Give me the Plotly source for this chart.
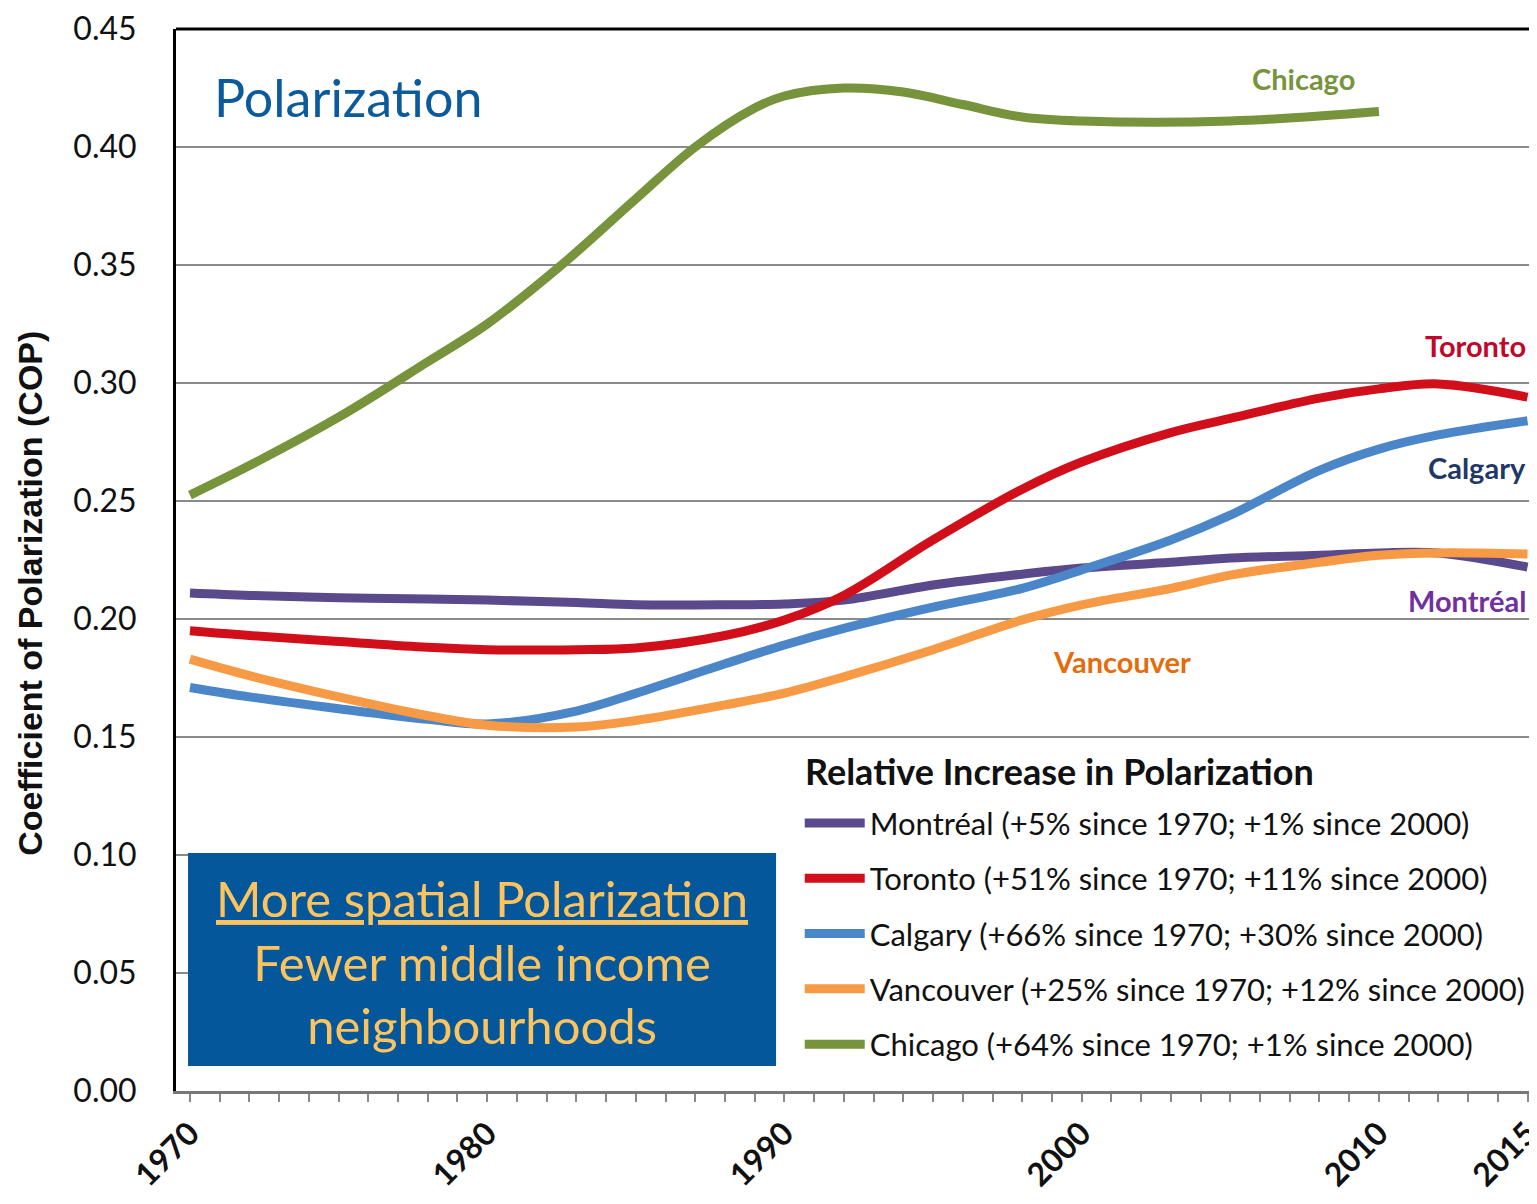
import plotly.graph_objects as go

# data
years = [1970, 1972, 1975, 1978, 1980, 1983, 1985, 1988, 1990, 1992, 1995, 1998,
         2000, 2003, 2005, 2008, 2010, 2012, 2015]

montreal = [0.211, 0.210, 0.209, 0.2085, 0.208, 0.207, 0.206, 0.206, 0.2064, 0.208, 0.2144, 0.219,
            0.2216, 0.224, 0.2258, 0.227, 0.228, 0.228, 0.222]
toronto = [0.195, 0.193, 0.1905, 0.188, 0.187, 0.187, 0.1877, 0.193, 0.1996, 0.210, 0.2335, 0.255,
           0.2665, 0.279, 0.285, 0.2936, 0.2975, 0.2996, 0.294]
calgary = [0.171, 0.167, 0.162, 0.1575, 0.1555, 0.161, 0.1685, 0.181, 0.189, 0.196, 0.205, 0.213,
           0.2208, 0.2335, 0.244, 0.263, 0.272, 0.278, 0.284]
vancouver = [0.183, 0.176, 0.167, 0.159, 0.155, 0.1542, 0.157, 0.1636, 0.1686, 0.1755, 0.187, 0.1996,
             0.206, 0.213, 0.2186, 0.224, 0.227, 0.228, 0.2275]

chicago_years = [1970, 1972, 1975, 1978, 1980, 1982.5, 1985, 1987, 1989, 1990, 1992, 1994, 1996,
                 1998, 2000, 2005, 2010]
chicago = [0.2525, 0.265, 0.2855, 0.309, 0.325, 0.350, 0.378, 0.400, 0.4165, 0.4216, 0.425, 0.4233,
           0.418, 0.4127, 0.411, 0.411, 0.415]

legend_names = [
    "Montréal (+5% since 1970; +1% since 2000)",
    "Toronto (+51% since 1970; +11% since 2000)",
    "Calgary (+66% since 1970; +30% since 2000)",
    "Vancouver (+25% since 1970; +12% since 2000)",
    "Chicago (+64% since 1970; +1% since 2000)",
]
colors = ["#5b4a8b", "#d10f1b", "#4a86c8", "#f79a46", "#77933c"]
series = [(years, montreal), (years, toronto), (years, calgary), (years, vancouver),
          (chicago_years, chicago)]

FONT = "Lato"

fig = go.Figure()
for i, (xs, ys) in enumerate(series):
    fig.add_trace(go.Scatter(
        x=xs, y=ys, mode="lines", name=legend_names[i],
        line=dict(color=colors[i], width=9, shape="spline", smoothing=1.0),
        legendgroup=str(i),
    ))

# city labels, Canadian ones right-aligned at the plot edge
fig.add_annotation(x=2007.45, y=0.4292, text="<b>Chicago</b>", showarrow=False,
                   font=dict(family=FONT, size=29, color="#77933c"), xanchor="center")
fig.add_annotation(x=2001.36, y=0.1818, text="<b>Vancouver</b>", showarrow=False,
                   font=dict(family=FONT, size=29, color="#e46c0a"), xanchor="center")
right_labels = [
    ("Toronto", 0.3161, "#c0082a"),
    ("Calgary", 0.2640, "#1f3864"),
    ("Montréal", 0.2080, "#7030a0"),
]
for text, y, c in right_labels:
    fig.add_annotation(xref="paper", x=0.999, y=y, text=f"<b>{text}</b>", showarrow=False,
                       font=dict(family=FONT, size=29, color=c), xanchor="right")

fig.add_annotation(xref="paper", yref="paper", x=0.0266, y=0.936, text="Polarization",
                   showarrow=False, xanchor="left", yanchor="middle",
                   font=dict(family=FONT, size=52, color="#0a5a9c"))

# y axis title (sits a bit below the plot centre in the original)
fig.add_annotation(xref="paper", yref="paper", x=-0.108, y=0.469, textangle=-90,
                   text="<b>Coefficient of Polarization (COP)</b>", showarrow=False,
                   xanchor="center", yanchor="middle",
                   font=dict(family="Liberation Sans", size=34, color="#111"))

# white panel behind the legend hides the grid there
fig.add_shape(type="rect", xref="paper", yref="paper", x0=0.4435, x1=1, y0=0.015, y1=0.32,
              fillcolor="white", line=dict(width=0), layer="above")

# legend title
fig.add_annotation(xref="paper", yref="paper", x=0.4635, y=0.3013, xanchor="left", yanchor="middle",
                   text="<b>Relative Increase in Polarization</b>", showarrow=False,
                   font=dict(family=FONT, size=36, color="#111"))

# blue box
fig.add_shape(type="rect", xref="paper", yref="paper", x0=0.0089, x1=0.4435, y0=0.0235, y1=0.224,
              fillcolor="#03579a", line=dict(width=0), layer="above")
fig.add_annotation(xref="paper", yref="paper", x=0.2262, y=0.1224,
                   xanchor="center", yanchor="middle",
                   text="<u>More spatial Polarization</u><br>Fewer middle income<br>neighbourhoods",
                   showarrow=False, align="center",
                   font=dict(family=FONT, size=49, color="#fcc35e"))

# top border
fig.add_shape(type="line", xref="paper", yref="paper", x0=0, x1=1, y0=1, y1=1,
              line=dict(color="black", width=3))

fig.update_layout(
    width=1521, height=1188,
    margin=dict(l=168, r=0, t=21, b=105, autoexpand=False),
    plot_bgcolor="white", paper_bgcolor="white",
    font=dict(family=FONT, color="#111"),
    showlegend=True,
    legend=dict(
        x=0.461, y=0.2775, xanchor="left", yanchor="top",
        bgcolor="rgba(255,255,255,0)", traceorder="grouped",
        font=dict(family=FONT, size=31, color="#111"),
        itemwidth=60, tracegroupgap=12,
    ),
    xaxis=dict(
        range=[1969.53, 2015.05], automargin=False,
        tickvals=[1970, 1980, 1990, 2000, 2010, 2015],
        ticktext=["<b>1970</b>", "<b>1980</b>", "<b>1990</b>", "<b>2000</b>", "<b>2010</b>", "<b>2015</b>"],
        tickangle=-45, tickfont=dict(family=FONT, size=32, color="#111"),
        ticklabeloverflow="allow",
        ticks="outside", ticklen=8, tickcolor="#888", tickwidth=2,
        minor=dict(dtick=1, tick0=1970, ticks="outside", ticklen=8, tickcolor="#888", tickwidth=2,
                   showgrid=False),
        showgrid=False, zeroline=False,
        showline=True, linecolor="#777", linewidth=3,
    ),
    yaxis=dict(
        range=[0, 0.45], dtick=0.05, tickformat=".2f", automargin=False,
        tickfont=dict(family=FONT, size=32, color="#111"),
        ticklabelstandoff=30,
        showgrid=True, gridcolor="#8a8a8a", gridwidth=2,
        zeroline=False, showline=True, linecolor="black", linewidth=3,
    ),
)

fig.write_html("out.html")
